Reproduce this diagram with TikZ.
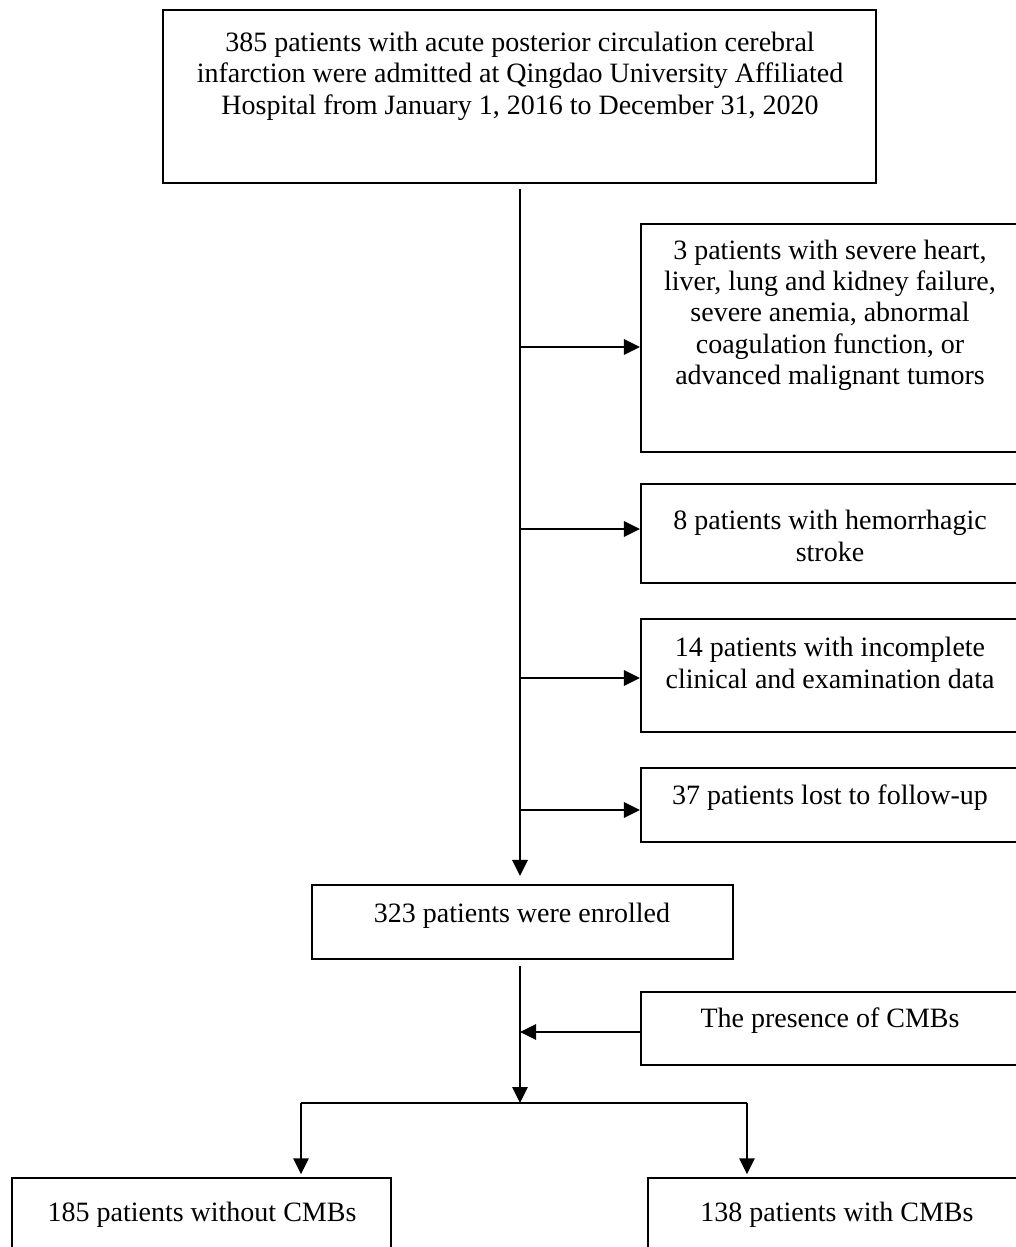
\documentclass[tikz,border=0pt]{standalone}
\usepackage{fontspec}
\setmainfont{Liberation Serif}
\usetikzlibrary{arrows.meta}
\begin{document}
\begin{tikzpicture}[x=0.75pt,y=-0.75pt,
  boxshape/.style={draw, line width=1.6pt, inner sep=0pt, rectangle},
  txt/.style={align=center, inner sep=0pt, font=\fontsize{21}{23.5}\selectfont},
  conn/.style={line width=1.6pt},
  arr/.style={line width=1.6pt, -{Triangle[length=12pt,width=11.5pt]}}]
\useasboundingbox (0,0) rectangle (1016,1247);
% boxes
\node[boxshape, minimum width=713*0.75pt, minimum height=173*0.75pt] (b1) at (519.5,96.5) {};
\node[txt] (t1) at (520,76) {385 patients with acute posterior circulation cerebral\\infarction were admitted at Qingdao University Affiliated\\Hospital from January 1, 2016 to December 31, 2020};
\node[boxshape, minimum width=385*0.75pt, minimum height=228*0.75pt] (b2) at (833.5,338) {};
\node[txt] (t2) at (830,315) {3 patients with severe heart,\\liver, lung and kidney failure,\\severe anemia, abnormal\\coagulation function, or\\advanced malignant tumors};
\node[boxshape, minimum width=385*0.75pt, minimum height=99*0.75pt] (b3) at (833.5,533.5) {};
\node[txt] (t3) at (830,536) {8 patients with hemorrhagic\\stroke};
\node[boxshape, minimum width=385*0.75pt, minimum height=113*0.75pt] (b4) at (833.5,675.5) {};
\node[txt] (t4) at (830,663) {14 patients with incomplete\\clinical and examination data};
\node[boxshape, minimum width=385*0.75pt, minimum height=74*0.75pt] (b5) at (833.5,805) {};
\node[txt] (t5) at (830,798) {37 patients lost to follow-up};
\node[boxshape, minimum width=421*0.75pt, minimum height=74*0.75pt] (enr) at (522.5,922) {};
\node[txt] (tenr) at (522,916) {323 patients were enrolled};
\node[boxshape, minimum width=385*0.75pt, minimum height=73*0.75pt] (cmb) at (833.5,1028.5) {};
\node[txt] (tcmb) at (830,1021) {The presence of CMBs};
\node[boxshape, minimum width=379*0.75pt, minimum height=77*0.75pt] (bl) at (201.5,1216.5) {};
\node[txt] (tbl) at (202,1215) {185 patients without CMBs};
\node[boxshape, minimum width=378*0.75pt, minimum height=77*0.75pt] (br) at (837,1216.5) {};
\node[txt] (tbr) at (837,1215) {138 patients with CMBs};
% connector points
\coordinate (v0) at (520,189);
\coordinate (v1) at (520,966);
\coordinate (h0) at (520,1103);
\coordinate (hl) at (301,1103);
\coordinate (hr) at (747,1103);
% connectors
\draw[arr, shorten >=6pt] (v0) -- (v0 |- enr.north);
\draw[arr] (v0 |- 0,347) -- (b2.west |- 0,347);
\draw[arr] (v0 |- 0,529) -- (b3.west |- 0,529);
\draw[arr] (v0 |- 0,678) -- (b4.west |- 0,678);
\draw[arr] (v0 |- 0,810) -- (b5.west |- 0,810);
\draw[arr] (v1) -- (h0);
\draw[arr] (cmb.west |- 0,1032) -- (v1 |- 0,1032);
\draw[conn] (hl) -- (hr);
\draw[arr, shorten >=2pt] (hl) -- (hl |- bl.north);
\draw[arr, shorten >=2pt] (hr) -- (hr |- br.north);
\end{tikzpicture}
\end{document}
